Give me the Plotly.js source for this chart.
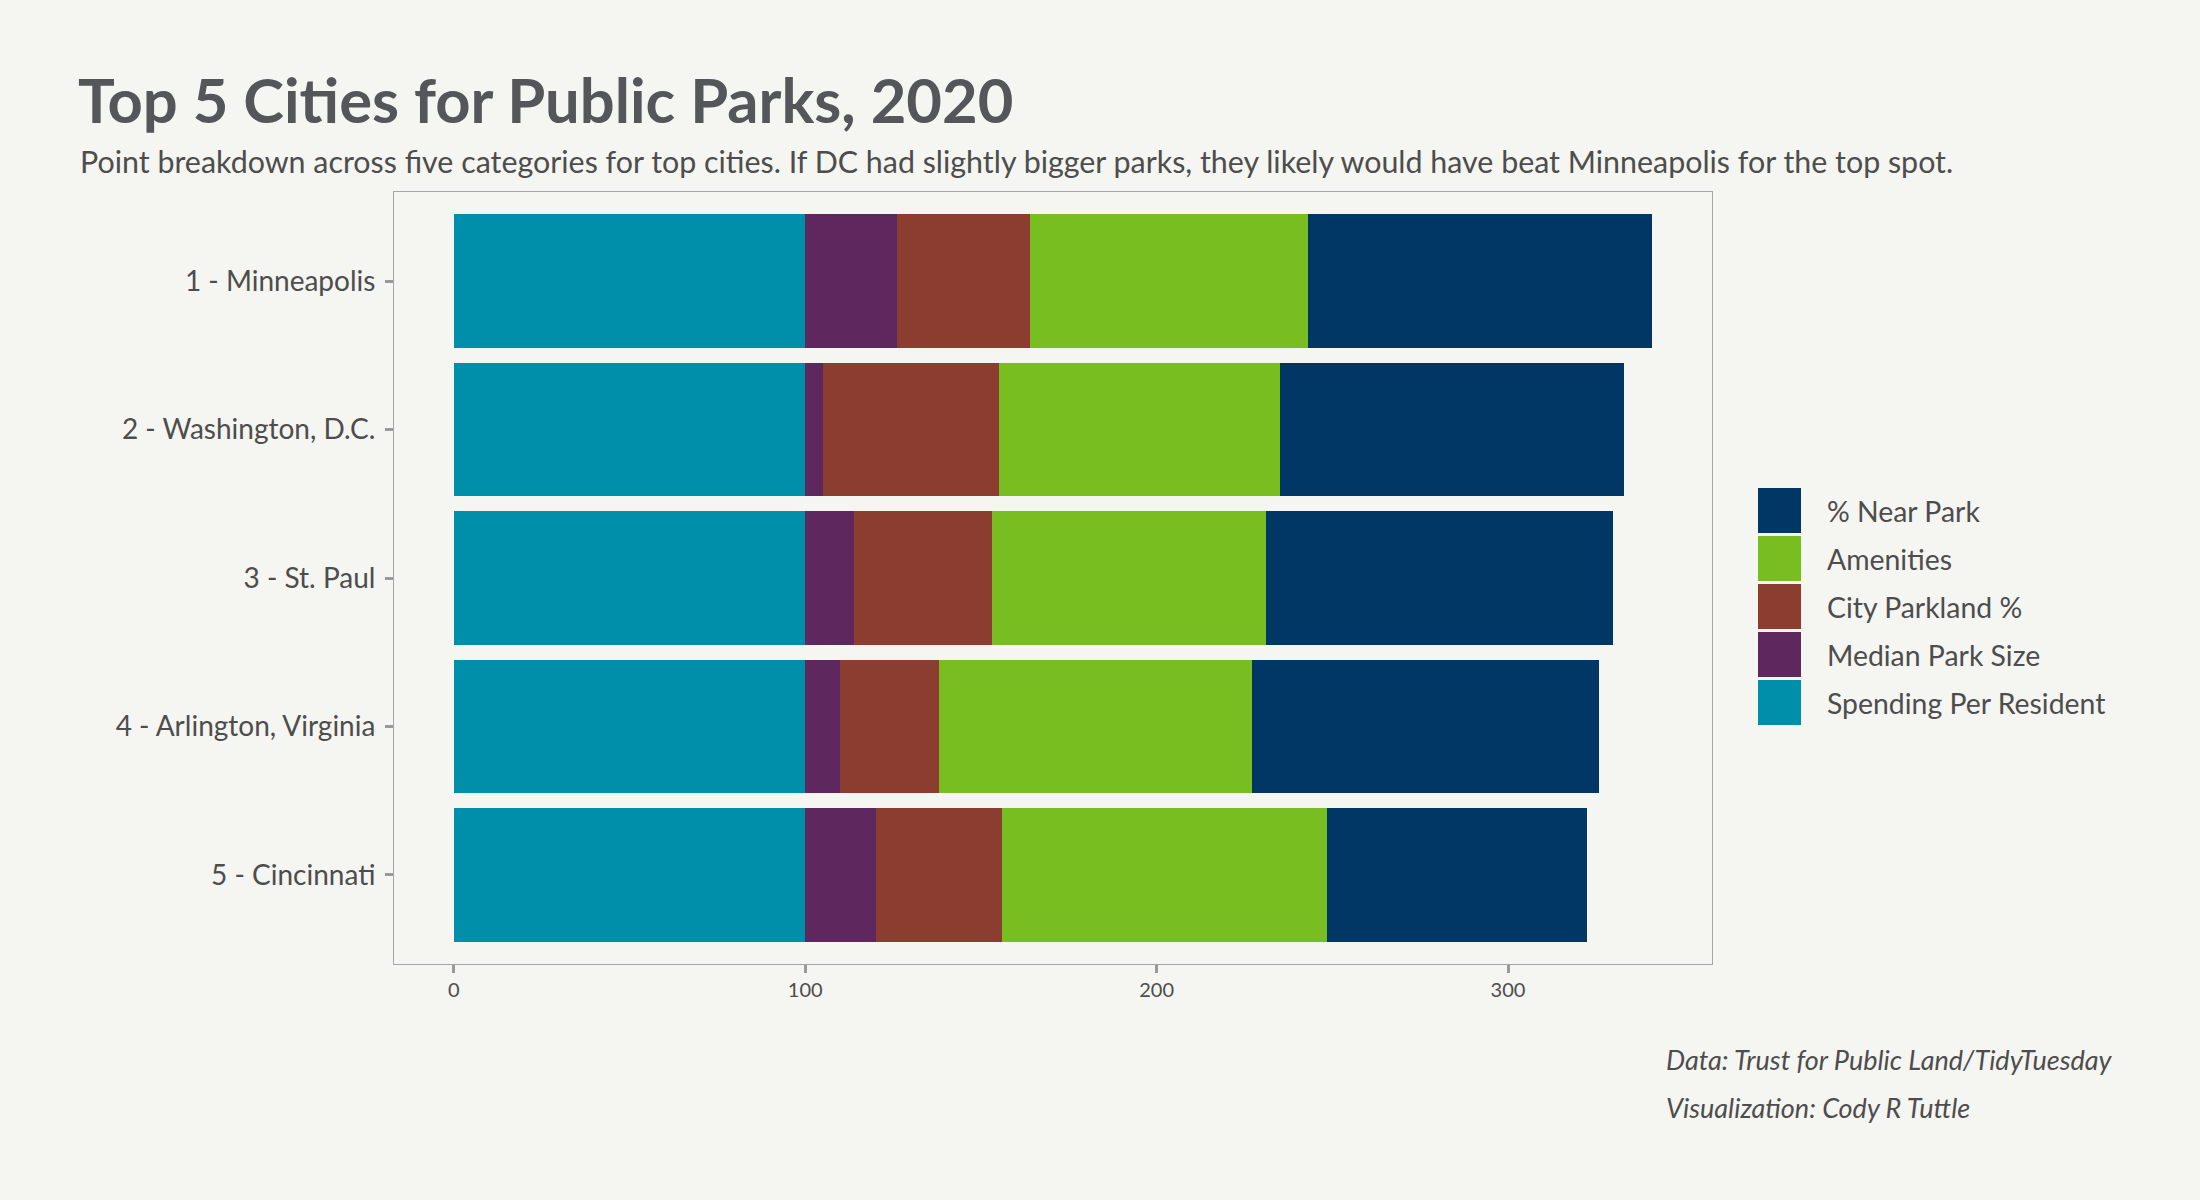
<!DOCTYPE html>
<html>
<head>
<meta charset="utf-8">
<script src="https://cdn.plot.ly/plotly-3.0.1.min.js"></script>
<style>
  html, body { margin: 0; padding: 0; background: #F5F5F1; }
  #chart { width: 2200px; height: 1200px; }
</style>
</head>
<body>
<div id="chart"></div>
<script>
// ---- Data ----
const cities = ["1 - Minneapolis", "2 - Washington, D.C.", "3 - St. Paul", "4 - Arlington, Virginia", "5 - Cincinnati"];
const spendingPerResident = [100, 100, 100, 100, 100];
const medianParkSize = [26, 5, 14, 10, 20];
const cityParklandPct = [38, 50, 39, 28, 36];
const amenities = [79, 80, 78, 89, 92.5];
const pctNearPark = [98, 98, 99, 99, 74];

const seriesNames = ["Spending Per Resident", "Median Park Size", "City Parkland %", "Amenities", "% Near Park"];
const seriesColors = ["#008FAB", "#5E285E", "#8B3D2F", "#78BE20", "#003764"];
const seriesValues = [spendingPerResident, medianParkSize, cityParklandPct, amenities, pctNearPark];

const xTicks = [0, 100, 200, 300];

// ---- Layout constants ----
const W = 2200, H = 1200;
const mL = 394, mR = 488, mT = 192, mB = 236;
const plotW = W - mL - mR, plotH = H - mT - mB;
const FONT = "Lato, 'Open Sans', sans-serif";
const TXT = "#4D4D4D";

const traces = seriesNames.map((name, i) => ({
  type: "bar",
  orientation: "h",
  name: name,
  y: cities,
  x: seriesValues[i],
  width: 0.9,
  marker: { color: seriesColors[i], line: { width: 0 } },
  showlegend: false,
  hoverinfo: "x+y+name"
}));

// custom legend (top-to-bottom: reverse of stacking order)
const legendOrder = [4, 3, 2, 1, 0];
const keyX0 = 1758, keyX1 = 1801, keyTop0 = 488, keyStep = 48, keyH = 45;
const px2x = px => (px - mL) / plotW;
const py2y = py => 1 - (py - mT) / plotH;
const shapes = [];
const annotations = [];
legendOrder.forEach((si, k) => {
  const top = keyTop0 + k * keyStep;
  shapes.push({
    type: "rect", xref: "paper", yref: "paper",
    x0: px2x(keyX0), x1: px2x(keyX1), y0: py2y(top + keyH), y1: py2y(top),
    fillcolor: seriesColors[si], line: { width: 0 }
  });
  annotations.push({
    xref: "paper", yref: "paper", x: px2x(1825), y: py2y(top + keyH / 2),
    xanchor: "left", yanchor: "middle", showarrow: false,
    text: seriesNames[si], font: { family: FONT, size: 28.4, color: TXT }
  });
});

// subtitle
annotations.push({
  xref: "paper", yref: "paper", x: px2x(78), y: py2y(161),
  xanchor: "left", yanchor: "middle", showarrow: false,
  text: "Point breakdown across five categories for top cities. If DC had slightly bigger parks, they likely would have beat Minneapolis for the top spot.",
  font: { family: FONT, size: 30.4, color: TXT }
});
// captions
annotations.push({
  xref: "paper", yref: "paper", x: px2x(1664), y: py2y(1059),
  xanchor: "left", yanchor: "middle", showarrow: false,
  text: "<i>Data: Trust for Public Land/TidyTuesday</i>",
  font: { family: FONT, size: 27, color: TXT }
});
annotations.push({
  xref: "paper", yref: "paper", x: px2x(1664), y: py2y(1107),
  xanchor: "left", yanchor: "middle", showarrow: false,
  text: "<i>Visualization: Cody R Tuttle</i>",
  font: { family: FONT, size: 27, color: TXT }
});

const layout = {
  width: W, height: H,
  paper_bgcolor: "#F5F5F1",
  plot_bgcolor: "#F5F5F1",
  margin: { l: mL, r: mR, t: mT, b: mB, pad: 0 },
  barmode: "stack",
  showlegend: false,
  title: {
    text: "<b>Top 5 Cities for Public Parks, 2020</b>",
    x: 78 / W, xanchor: "left", xref: "container",
    y: 1 - 101 / H, yanchor: "middle", yref: "container",
    font: { family: FONT, size: 61.5, color: "#54565A" }
  },
  xaxis: {
    range: [-17.05, 358.05],
    tickvals: xTicks,
    ticktext: xTicks.map(String),
    showgrid: false, zeroline: false,
    showline: true, linecolor: "#A6A6A6", linewidth: 1, mirror: true,
    ticks: "outside", ticklen: 8, tickcolor: "#999999", tickwidth: 3,
    tickfont: { family: FONT, size: 20, color: TXT },
    fixedrange: true
  },
  yaxis: {
    type: "category",
    categoryorder: "array",
    categoryarray: cities,
    range: [4.6, -0.6],
    showgrid: false, zeroline: false,
    showline: true, linecolor: "#A6A6A6", linewidth: 1, mirror: true,
    ticks: "outside", ticklen: 8, tickcolor: "#999999", tickwidth: 3,
    tickfont: { family: FONT, size: 28, color: TXT },
    ticklabelstandoff: 4,
    fixedrange: true
  },
  shapes: shapes,
  annotations: annotations
};

Plotly.newPlot("chart", traces, layout, { displayModeBar: false, staticPlot: true });
</script>
</body>
</html>
